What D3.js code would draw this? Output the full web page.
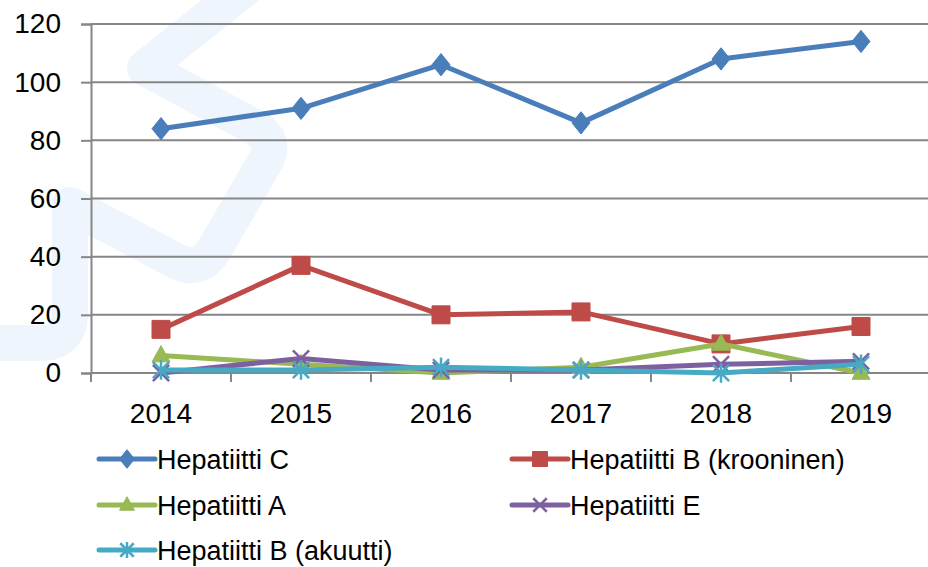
<!DOCTYPE html>
<html>
<head>
<meta charset="utf-8">
<script src="https://cdn.jsdelivr.net/npm/d3@7"></script>
<style>
  body { margin: 0; background: #fff; }
  svg { display: block; }
  text { font-family: "Liberation Sans", Arial, sans-serif; fill: #000; }
</style>
</head>
<body>
<div id="chart"></div>
<script>
const years = ["2014", "2015", "2016", "2017", "2018", "2019"];
const yTicks = [0, 20, 40, 60, 80, 100, 120];

const hepC = [84, 91, 106, 86, 108, 114];
const hepBChronic = [15, 37, 20, 21, 10, 16];
const hepA = [6, 3, 0, 2, 10, 0];
const hepE = [0, 5, 1, 1, 3, 4];
const hepBAcute = [1, 1, 2, 1, 0, 3];

const seriesNames = ["Hepatiitti C", "Hepatiitti B (krooninen)", "Hepatiitti A", "Hepatiitti E", "Hepatiitti B (akuutti)"];
const seriesValues = [hepC, hepBChronic, hepA, hepE, hepBAcute];
const colors = ["#4a7ebb", "#be4b48", "#98b954", "#7d60a0", "#46aac5"];
const markers = ["diamond", "square", "triangle", "x", "star"];

const width = 928, height = 567;
const margin = { top: 24, left: 91, bottom: 194 };
const plotRight = 931;

const svg = d3.select("#chart").append("svg")
    .attr("width", width)
    .attr("height", height);

svg.append("rect").attr("width", width).attr("height", height).attr("fill", "#fff");

// faint watermark logo behind the chart
svg.append("path")
    .attr("d", "M-20,343 L40,343 Q70,343 70,313 L70,205 L178,262 Q200,272 214,250 L266,160 Q276,140 256,128 L145,68 L262,-25")
    .attr("fill", "none")
    .attr("stroke", "#eef5fc")
    .attr("stroke-width", 36)
    .attr("stroke-linejoin", "round")
    .attr("stroke-linecap", "round");

const x = d3.scalePoint()
    .domain(years)
    .range([margin.left, plotRight])
    .padding(0.5);

const y = d3.scaleLinear()
    .domain([0, 120])
    .range([height - margin.bottom, margin.top]);

// gridlines
svg.append("g")
    .selectAll("line")
    .data(yTicks.filter(d => d > 0))
    .enter().append("line")
    .attr("x1", margin.left).attr("x2", plotRight)
    .attr("y1", d => y(d)).attr("y2", d => y(d))
    .attr("stroke", "#868686")
    .attr("stroke-width", 2);

// y axis
const yAxis = svg.append("g")
    .attr("transform", `translate(${margin.left},0)`)
    .call(d3.axisLeft(y).tickValues(yTicks).tickSize(10).tickPadding(20));
yAxis.select(".domain").attr("stroke", "#868686").attr("stroke-width", 2);
yAxis.selectAll(".tick line").attr("stroke", "#868686").attr("stroke-width", 2);
yAxis.selectAll("text")
    .style("font-size", "28px")
    .style("font-family", "'Liberation Sans', Arial, sans-serif")
    .attr("fill", "#000");

// x axis with ticks between categories
const step = x.step();
const xAxis = svg.append("g").attr("transform", `translate(0,${y(0)})`);
xAxis.append("line")
    .attr("x1", margin.left).attr("x2", plotRight)
    .attr("stroke", "#868686").attr("stroke-width", 2);
xAxis.selectAll(".tk")
    .data(d3.range(years.length + 1))
    .enter().append("line")
    .attr("x1", i => margin.left + i * step).attr("x2", i => margin.left + i * step)
    .attr("y1", 0).attr("y2", 9)
    .attr("stroke", "#868686").attr("stroke-width", 2);
xAxis.selectAll("text")
    .data(years)
    .enter().append("text")
    .attr("x", d => x(d))
    .attr("y", 50)
    .attr("text-anchor", "middle")
    .style("font-size", "28px")
    .text(d => d);

function markerPath(type, s) {
    const p = d3.path();
    if (type === "diamond") {
        p.moveTo(0, -s * 0.62); p.lineTo(s * 0.5, 0); p.lineTo(0, s * 0.62); p.lineTo(-s * 0.5, 0); p.closePath();
    } else if (type === "square") {
        p.rect(-s / 2, -s / 2, s, s);
    } else if (type === "triangle") {
        p.moveTo(0, -s * 0.55); p.lineTo(s * 0.5, s * 0.35); p.lineTo(-s * 0.5, s * 0.35); p.closePath();
    } else if (type === "x") {
        const h = s * 0.45;
        p.moveTo(-h, -h); p.lineTo(h, h); p.moveTo(h, -h); p.lineTo(-h, h);
    } else if (type === "star") {
        const h = s * 0.45;
        p.moveTo(-h, -h); p.lineTo(h, h); p.moveTo(h, -h); p.lineTo(-h, h);
        p.moveTo(0, -h * 1.2); p.lineTo(0, h * 1.2);
    }
    return p.toString();
}

function drawMarker(g, type, color, s) {
    const open = type === "x" || type === "star";
    g.append("path")
        .attr("d", markerPath(type, s))
        .attr("fill", open ? "none" : color)
        .attr("stroke", color)
        .attr("stroke-width", open ? 2.5 : 1);
}

const line = d3.line()
    .x((d, i) => x(years[i]))
    .y(d => y(d));

seriesValues.forEach((vals, si) => {
    const g = svg.append("g");
    g.append("path")
        .attr("d", line(vals))
        .attr("fill", "none")
        .attr("stroke", colors[si])
        .attr("stroke-width", 5)
        .attr("stroke-linejoin", "round");
    vals.forEach((v, i) => {
        const m = g.append("g").attr("transform", `translate(${x(years[i])},${y(v)})`);
        drawMarker(m, markers[si], colors[si], 18);
    });
});

// legend
const legendPos = [[99, 459], [512, 459], [99, 505], [512, 505], [99, 550]];
seriesNames.forEach((name, si) => {
    const [lx, ly] = legendPos[si];
    const g = svg.append("g").attr("transform", `translate(${lx},${ly})`);
    g.append("line")
        .attr("x1", 0).attr("x2", 56)
        .attr("stroke", colors[si]).attr("stroke-width", 5)
        .attr("stroke-linecap", "round");
    const m = g.append("g").attr("transform", "translate(28,0)");
    drawMarker(m, markers[si], colors[si], 15);
    g.append("text")
        .attr("x", 58)
        .attr("y", 10)
        .style("font-size", "27px")
        .text(name);
});
</script>
</body>
</html>
